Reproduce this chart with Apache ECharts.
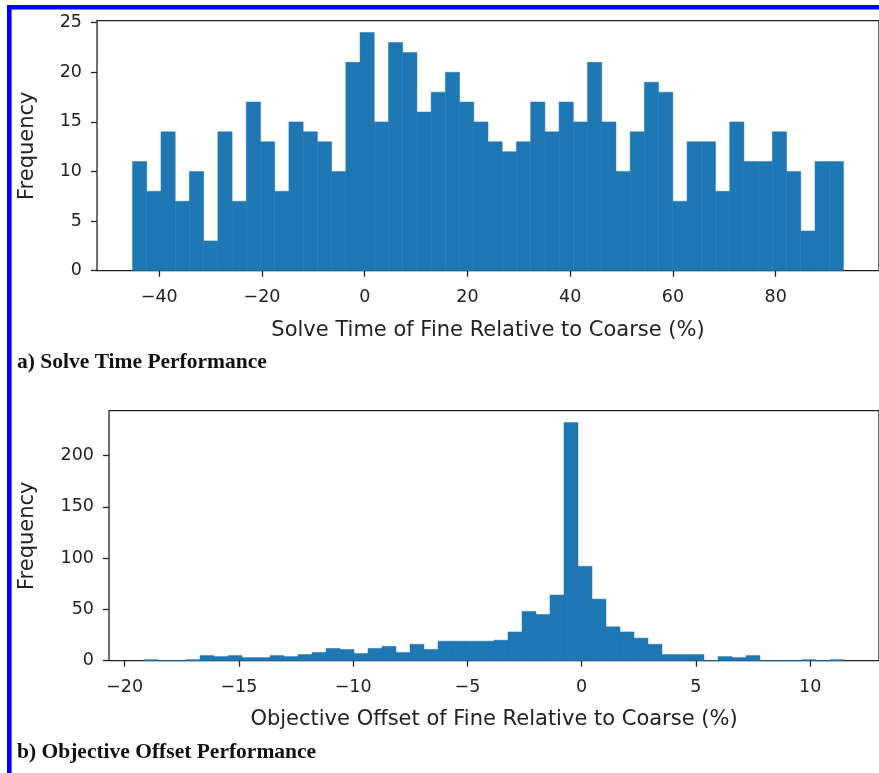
<!DOCTYPE html>
<html>
<head>
<meta charset="utf-8">
<script src="https://cdn.jsdelivr.net/npm/echarts@6/dist/echarts.min.js"></script>
<style>
html,body{margin:0;padding:0;background:#fff;}
#chart{width:879px;height:773px;}
</style>
</head>
<body>
<div id="chart"></div>
<script>
// ---- Panel a: Solve time histogram (50 bins) ----
const solveBinStart = -45.2;
const solveBinEnd = 93.2;
const solveCounts = [11,8,14,7,10,3,14,7,17,13, 8,15,14,13,10,21,24,15,23,22,
                     16,18,20,17,15,13,12,13,17,14, 17,15,21,15,10,14,19,18,7,13,
                     13,8,15,11,11,14,10,4,11,11];
const solveXTicks = [-40,-20,0,20,40,60,80];
const solveYTicks = [0,5,10,15,20,25];

// ---- Panel b: Objective offset histogram (50 bins) ----
const objBinStart = -19.15;
const objBinEnd = 11.48;
const objCounts = [1,0,0,1,5,4,5,3,3,5, 4,6,8,12,11,7,12,14,8,16,
                   11,19,19,19,19,20,28,48,45,64, 232,92,60,33,28,22,16,6,6,6,
                   0,4,3,5,0,0,0,1,0,1];
const objXTicks = [-20,-15,-10,-5,0,5,10];
const objYTicks = [0,50,100,150,200];

const labelA = 'a) Solve Time Performance';
const labelB = 'b) Objective Offset Performance';
const xNameA = 'Solve Time of Fine Relative to Coarse (%)';
const xNameB = 'Objective Offset of Fine Relative to Coarse (%)';
const yName = 'Frequency';

function bins(start, end, counts){
  const w = (end - start) / counts.length;
  return counts.map((c, i) => [start + i*w, start + (i+1)*w, c]);
}
function margins(start, end){ const m = (end-start)*0.05; return [start-m, end+m]; }

const BAR = '#1f77b4';
const INK = '#222222';
const fmt = v => String(v).replace('-', '\u2212');

function renderHist(params, api){
  const x0 = api.value(0), x1 = api.value(1), c = api.value(2);
  const p0 = api.coord([x0, c]);
  const p1 = api.coord([x1, 0]);
  return {
    type: 'rect',
    shape: {x: p0[0], y: p0[1], width: p1[0]-p0[0], height: p1[1]-p0[1]},
    style: {fill: BAR, stroke: BAR, lineWidth: 0.5}
  };
}

function xAxisDef(idx, ext, ticks, name, gap){
  return {
    type:'value', gridIndex: idx, position:'bottom', min: ext[0], max: ext[1],
    name: name, nameLocation:'middle', nameGap: gap,
    nameTextStyle:{fontFamily:'DejaVu Sans', fontSize:21, color:INK},
    axisLine:{show:false, onZero:false},
    axisTick:{show:true, inside:false, customValues: ticks, length:6, lineStyle:{color:INK, width:1.3}},
    axisLabel:{customValues: ticks, formatter: fmt, margin:18, fontFamily:'DejaVu Sans', fontSize:17.5, color:INK},
    splitLine:{show:false}
  };
}
function yAxisDef(idx, max, ticks, gap){
  return {
    type:'value', gridIndex: idx, position:'left', min: 0, max: max,
    name: yName, nameLocation:'middle', nameGap: gap, nameRotate: 90,
    nameTextStyle:{fontFamily:'DejaVu Sans', fontSize:21, color:INK},
    axisLine:{show:false, onZero:false},
    axisTick:{show:true, inside:false, customValues: ticks, length:6, lineStyle:{color:INK, width:1.3}},
    axisLabel:{customValues: ticks, margin:15, fontFamily:'DejaVu Sans', fontSize:17.5, color:INK},
    splitLine:{show:false}
  };
}

const extA = margins(solveBinStart, solveBinEnd);
const extB = margins(objBinStart, objBinEnd);
const yMaxA = Math.max(...solveCounts) * 1.05;
const yMaxB = Math.max(...objCounts) * 1.05;

const chart = echarts.init(document.getElementById('chart'), null, {renderer:'canvas'});
chart.setOption({
  backgroundColor:'#ffffff',
  animation:false,
  grid:[
    {left:97, top:20.7, width:784, height:250, show:true, borderColor:INK, borderWidth:1.3, backgroundColor:'transparent'},
    {left:109, top:410.7, width:771, height:250, show:true, borderColor:INK, borderWidth:1.3, backgroundColor:'transparent'}
  ],
  xAxis:[
    xAxisDef(0, extA, solveXTicks, xNameA, 49),
    xAxisDef(1, extB, objXTicks, xNameB, 48)
  ],
  yAxis:[
    yAxisDef(0, yMaxA, solveYTicks, 59),
    yAxisDef(1, yMaxB, objYTicks, 71)
  ],
  series:[
    {type:'custom', xAxisIndex:0, yAxisIndex:0, renderItem: renderHist, data: bins(solveBinStart, solveBinEnd, solveCounts), silent:true},
    {type:'custom', xAxisIndex:1, yAxisIndex:1, renderItem: renderHist, data: bins(objBinStart, objBinEnd, objCounts), silent:true}
  ],
  graphic:[
    {type:'rect', shape:{x:7, y:5, width:872, height:4.6}, style:{fill:'#0000ff'}},
    {type:'rect', shape:{x:7, y:5, width:4.6, height:768}, style:{fill:'#0000ff'}},
    {type:'text', left:17, top:351, style:{text:labelA, font:'bold 21.5px "Liberation Serif"', fill:'#111'}},
    {type:'text', left:17, top:741, style:{text:labelB, font:'bold 21.5px "Liberation Serif"', fill:'#111'}}
  ]
});
</script>
</body>
</html>
